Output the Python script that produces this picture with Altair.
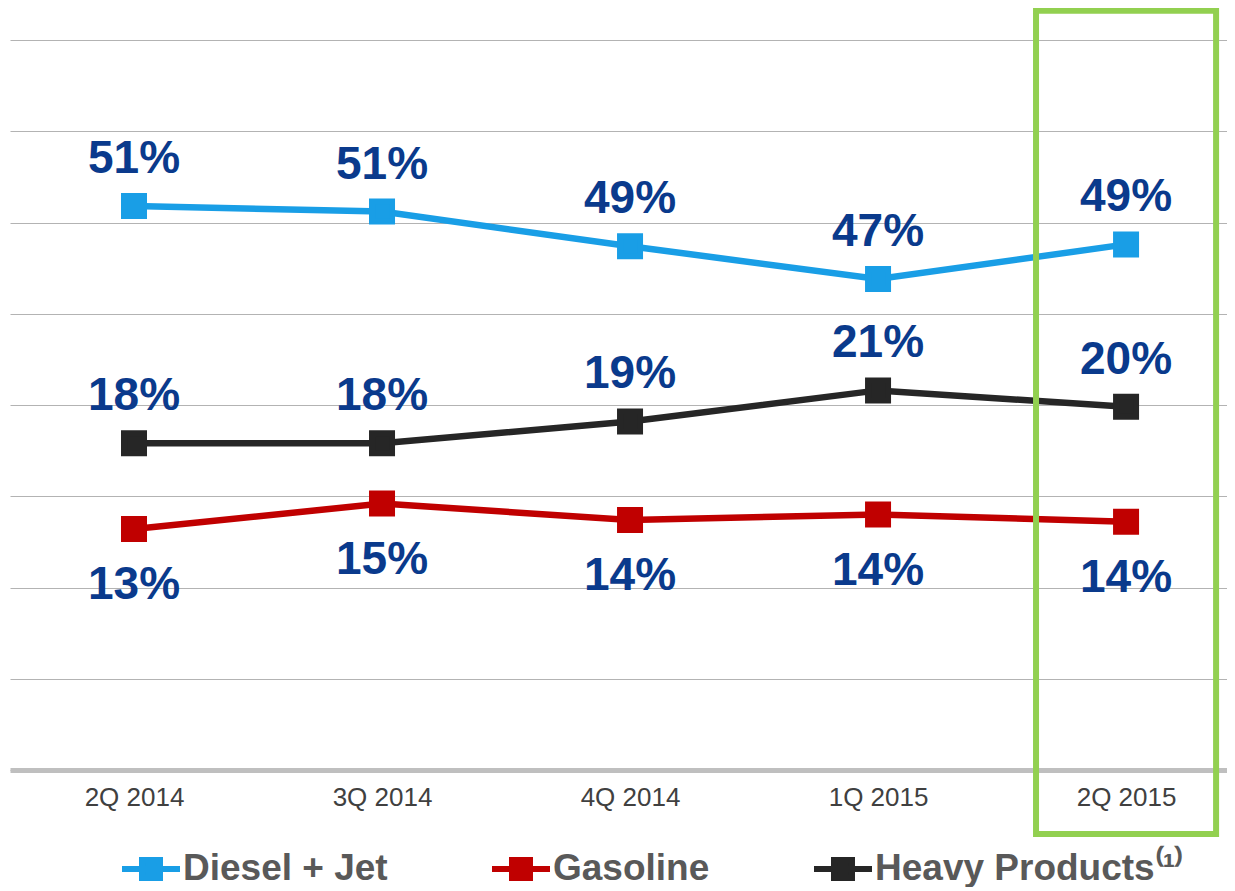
import json
import altair as alt
import pandas as pd

# ---- data ----
QUARTERS = ["2Q 2014", "3Q 2014", "4Q 2014", "1Q 2015", "2Q 2015"]
SERIES = ["Diesel + Jet", "Gasoline", "Heavy Products"]
DIESEL_JET = [50.9, 50.6, 48.7, 46.9, 48.8]
GASOLINE = [13.2, 14.6, 13.7, 14.0, 13.6]
HEAVY = [17.9, 17.9, 19.1, 20.8, 19.9]
# the original chart draws Diesel + Jet on a broken axis, 20 points lower
DIESEL_AXIS_BREAK = 20
HIGHLIGHT_QUARTER = "2Q 2015"

COLORS = ["#199EE6", "#C00000", "#262626"]
LABEL_COLOR = "#0A3A8C"
FONT = "Liberation Sans"

rows = []
for name, vals, shift, pos in [
    ("Diesel + Jet", DIESEL_JET, DIESEL_AXIS_BREAK, "above"),
    ("Gasoline", GASOLINE, 0, "below"),
    ("Heavy Products", HEAVY, 0, "above"),
]:
    for i, v in enumerate(vals):
        rows.append({"idx": i, "quarter": QUARTERS[i], "series": name,
                     "value": v, "plot": v - shift, "pos": pos})
df = pd.DataFrame(rows)

hi = QUARTERS.index(HIGHLIGHT_QUARTER)
box_df = pd.DataFrame([{"x": hi - 0.363, "x2": hi + 0.363, "y": -3.5, "y2": 41.6}])

x_scale = alt.Scale(domain=[-0.5, 4.407], nice=False, zero=False)
y_scale = alt.Scale(domain=[0, 40], nice=False, zero=False)
color_scale = alt.Scale(domain=SERIES, range=COLORS)
# series names sort alphabetically in the same order as SERIES
line_color_scale = alt.Scale(range=COLORS)

label_expr = json.dumps(QUARTERS) + "[datum.value]"

x_enc = alt.X("idx:Q", scale=x_scale,
              axis=alt.Axis(values=list(range(len(QUARTERS))), labelExpr=label_expr,
                            title=None, grid=False, ticks=False,
                            domainColor="#BFBFBF", domainWidth=5,
                            labelFont=FONT, labelFontSize=26, labelColor="#404040",
                            labelPadding=14))
y_enc = alt.Y("plot:Q", scale=y_scale,
              axis=alt.Axis(values=list(range(0, 41, 5)), title=None, labels=False,
                            ticks=False, domain=False, grid=True,
                            gridColor="#B3B3B3", gridWidth=1.2))

base = alt.Chart(df)

lines = base.mark_line(strokeWidth=6.5).encode(
    x=x_enc, y=y_enc,
    color=alt.Color("series:N", scale=line_color_scale, legend=None),
)

legend = alt.Legend(
    title=None, orient="none", direction="horizontal",
    legendX=109, legendY=797,
    symbolType="M-1,0L1,0M-0.31,-0.31L0.31,-0.31L0.31,0.31L-0.31,0.31Z",
    symbolSize=3364, symbolStrokeWidth=6,
    labelFont=FONT, labelFontSize=37, labelFontWeight="bold", labelColor="#595959",
    labelOffset=0, columnPadding=92,
    labelExpr="datum.label == 'Heavy Products' ? 'Heavy Products\u207d\u00b9\u207e' : datum.label",
    labelLimit=600,
)

points = base.mark_point(shape="square", filled=True, size=400, strokeWidth=6,
                         opacity=1, strokeJoin="miter").encode(
    x="idx:Q", y="plot:Q",
    fill=alt.Fill("series:N", scale=color_scale, legend=legend),
    stroke=alt.Stroke("series:N", scale=color_scale, legend=legend),
)

labels_above = base.transform_filter("datum.pos == 'above'").transform_calculate(
    txt="format(datum.value, '.0f') + '%'"
).mark_text(font=FONT, fontSize=46, fontWeight="bold", color=LABEL_COLOR,
            baseline="alphabetic", dy=-33).encode(x="idx:Q", y="plot:Q", text="txt:N")

labels_below = base.transform_filter("datum.pos == 'below'").transform_calculate(
    txt="format(datum.value, '.0f') + '%'"
).mark_text(font=FONT, fontSize=46, fontWeight="bold", color=LABEL_COLOR,
            baseline="alphabetic", dy=70).encode(x="idx:Q", y="plot:Q", text="txt:N")

box = alt.Chart(box_df).mark_rect(fill=None, filled=False, stroke="#92D050",
                                  strokeWidth=6, clip=False).encode(
    x="x:Q", x2="x2:Q", y="y:Q", y2="y2:Q")

chart = alt.layer(lines, points, labels_above, labels_below, box).properties(
    width=1217, height=730,
    padding={"left": 2, "top": 32, "right": 0, "bottom": 117},
    autosize=alt.AutoSizeParams(type="none"),
    background="white",
).configure_view(stroke=None)

chart.save("out.html", embed_options={"renderer": "svg", "actions": False})
